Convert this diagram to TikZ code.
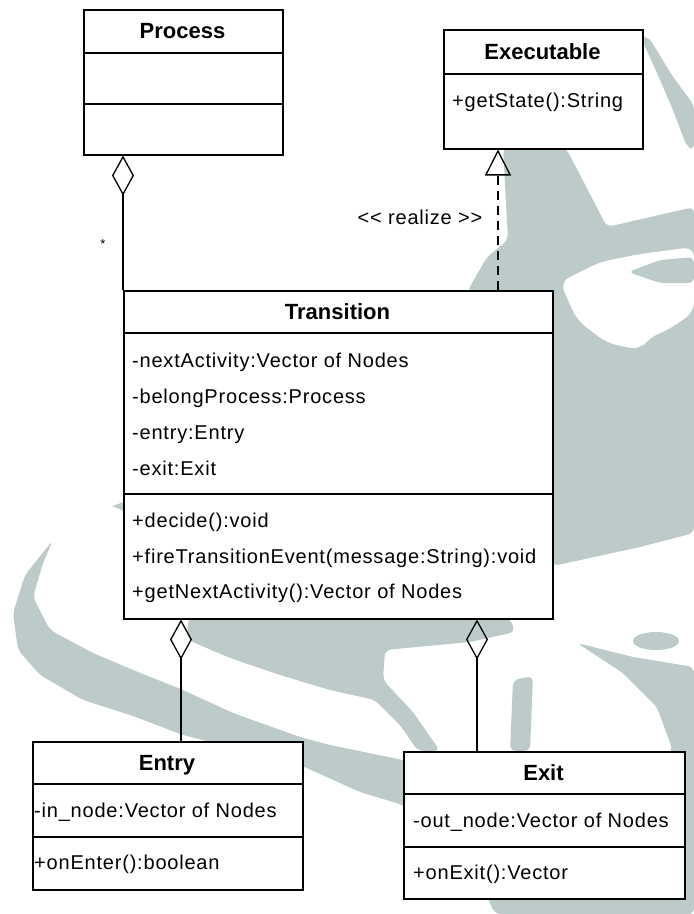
\documentclass[tikz,border=0pt]{standalone}
\usepackage{fontspec}
\setmainfont{Liberation Sans}
\newfontfamily\memberfont{Liberation Sans}[LetterSpace=4]
\usetikzlibrary{arrows.meta}
\definecolor{watermark}{RGB}{189,202,202}
\tikzset{
  umlbox/.style={draw,fill=white,line width=1.5pt,inner sep=0pt,anchor=north west},
  classname/.style={font=\bfseries\fontsize{22}{24}\selectfont,anchor=base,inner sep=0pt},
  member/.style={font=\memberfont\fontsize{20}{24}\selectfont,anchor=base west,inner sep=0pt},
  aggr/.style={line width=1.3pt,-{Diamond[open,length=40pt,width=22pt]}},
  realize/.style={line width=1.3pt,dash pattern=on 9pt off 6pt,-{Triangle[open,length=26pt,width=26pt]}},
  blot/.style={fill=watermark,rounded corners=6pt},
}

\begin{document}
\begin{tikzpicture}[x=1pt,y=-1pt]
    \fill[white] (0,0) rectangle (694,914);
    \useasboundingbox (0,0) rectangle (694,914);

    % logo behind the classes
    \fill[blot] (641,38) -- (648,36) -- (673,77) -- (694,105) -- (694,150) -- (687,147) -- (673,110) -- (657,73) -- cycle;
    \fill[blot] (503,148) -- (566,148) -- (607,227) -- (694,207) -- (694,533) -- (640,547) -- (553,566) -- (530,420) -- (467,292) -- (487,257) -- (508,240) -- cycle;
    \fill[white,rounded corners=10pt] (560,282) -- (600,262) -- (640,254) -- (694,247) -- (694,312) -- (668,330) -- (650,337) -- (640,350) -- (607,343) -- (577,320) -- cycle;
    \fill[blot] (628,272) -- (660,260) -- (694,257) -- (694,283) -- (660,283) -- cycle;
    \fill[blot] (53,540) -- (25,575) -- (13,613) -- (18,650) -- (40,675) -- (83,700) -- (133,716) -- (183,735) -- (250,752) -- (300,765) -- (360,792) -- (403,805) -- (470,860) -- (470,780) -- (403,760) -- (330,745) -- (300,737) -- (233,713) -- (183,690) -- (133,670) -- (93,653) -- (50,630) -- (33,597) -- (43,563) -- cycle;
    \fill[blot] (188,618) -- (510,618) -- (515,632) -- (470,642) -- (385,650) -- (383,680) -- (413,712) -- (440,751) -- (418,751) -- (400,725) -- (375,700) -- (330,690) -- (280,675) -- (230,658) -- (188,640) -- cycle;
    \fill[blot] (513,680) -- (533,676) -- (530,751) -- (510,751) -- cycle;
    \fill[watermark] (656,641) ellipse [x radius=23, y radius=9];
    \fill[blot] (577,643) -- (633,657) -- (694,667) -- (694,914) -- (495,914) -- (470,860) -- (560,800) -- (673,751) -- (657,707) -- (623,673) -- cycle;
    \fill[watermark] (112,506) -- (124,502) -- (124,511) -- cycle;

    % classes
    \node[umlbox,minimum width=199pt,minimum height=145pt] (process) at (83,9) {};
    \draw[line width=1.5pt] ([yshift=-44pt]process.north west) -- ([yshift=-44pt]process.north east);
    \draw[line width=1.5pt] ([yshift=-95pt]process.north west) -- ([yshift=-95pt]process.north east);
    \node[classname] (process-name) at (182.5,38) {Process};

    \node[umlbox,minimum width=199pt,minimum height=119pt] (exec) at (443,29) {};
    \draw[line width=1.5pt] ([yshift=-45pt]exec.north west) -- ([yshift=-45pt]exec.north east);
    \node[classname] (exec-name) at (542.5,59) {Executable};
    \node[member] (exec-m1) at (452,107) {+getState():String};

    \node[umlbox,minimum width=429pt,minimum height=328pt] (trans) at (123,290) {};
    \draw[line width=1.5pt] ([yshift=-43pt]trans.north west) -- ([yshift=-43pt]trans.north east);
    \draw[line width=1.5pt] ([yshift=-204pt]trans.north west) -- ([yshift=-204pt]trans.north east);
    \node[classname] (trans-name) at (337.5,319) {Transition};
    \node[member] (trans-a1) at (132,367) {-nextActivity:Vector of Nodes};
    \node[member] (trans-a2) at (132,403) {-belongProcess:Process};
    \node[member] (trans-a3) at (132,439) {-entry:Entry};
    \node[member] (trans-a4) at (132,475) {-exit:Exit};
    \node[member] (trans-m1) at (132,527) {+decide():void};
    \node[member] (trans-m2) at (132,563) {+fireTransitionEvent(message:String):void};
    \node[member] (trans-m3) at (132,598) {+getNextActivity():Vector of Nodes};

    \node[umlbox,minimum width=270pt,minimum height=148pt] (entry) at (32,741) {};
    \draw[line width=1.5pt] ([yshift=-43pt]entry.north west) -- ([yshift=-43pt]entry.north east);
    \draw[line width=1.5pt] ([yshift=-96pt]entry.north west) -- ([yshift=-96pt]entry.north east);
    \node[classname] (entry-name) at (167,770) {Entry};
    \node[member] (entry-a1) at (34,817) {-in\_node:Vector of Nodes};
    \node[member] (entry-m1) at (34,869) {+onEnter():boolean};

    \node[umlbox,minimum width=281pt,minimum height=147pt] (exit) at (403,751) {};
    \draw[line width=1.5pt] ([yshift=-43pt]exit.north west) -- ([yshift=-43pt]exit.north east);
    \draw[line width=1.5pt] ([yshift=-96pt]exit.north west) -- ([yshift=-96pt]exit.north east);
    \node[classname] (exit-name) at (543.5,780) {Exit};
    \node[member] (exit-a1) at (413,827) {-out\_node:Vector of Nodes};
    \node[member] (exit-m1) at (413,879) {+onExit():Vector};

    % relations
    \draw[aggr] (trans.north west) -- (trans.north west |- process.south);
    \node[anchor=base,font=\fontsize{13}{13}\selectfont,inner sep=0pt] (mult) at (103,248) {*};

    \coordinate (realize-foot) at ([xshift=375pt]trans.north west);
    \draw[realize] (realize-foot) -- (realize-foot |- exec.south);
    \node[member,anchor=base] (realize-label) at (420,224) {\textless\textless{} realize \textgreater\textgreater};

    \coordinate (entry-hook) at ([xshift=58pt]trans.south west);
    \draw[aggr] (entry.north -| entry-hook) -- (entry-hook);
    \coordinate (exit-hook) at ([xshift=354pt]trans.south west);
    \draw[aggr] (exit.north -| exit-hook) -- (exit-hook);
\end{tikzpicture}
\end{document}
